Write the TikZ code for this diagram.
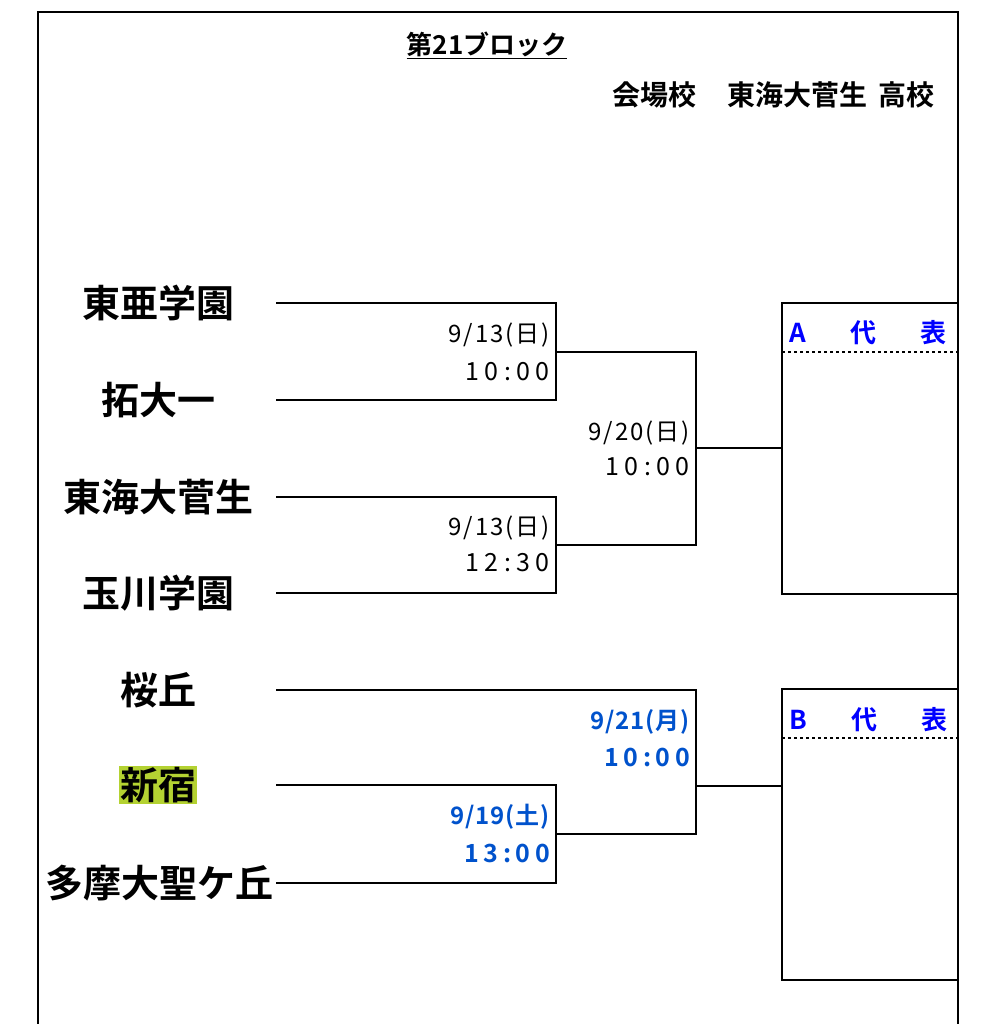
\documentclass[tikz,border=0pt]{standalone}
\usepackage{fontspec}
\setmainfont{Noto Sans CJK JP}[BoldFont={Noto Sans CJK JP Bold}]
\begin{document}
\begin{tikzpicture}[x=1pt,y=-1pt,
  ln/.style={line width=1.5pt},
  team/.style={font=\bfseries\fontsize{38}{38}\selectfont,anchor=center},
  dt/.style={font=\fontsize{24}{24}\selectfont\addfontfeature{LetterSpace=8},anchor=east,inner sep=0pt},
  tm/.style={font=\fontsize{25}{25}\selectfont\addfontfeature{LetterSpace=22},anchor=east,inner sep=0pt},
  bdt/.style={font=\bfseries\fontsize{24}{24}\selectfont\addfontfeature{LetterSpace=4},anchor=east,inner sep=0pt,text=blue!60!cyan!80!black},
  btm/.style={font=\bfseries\fontsize{25}{25}\selectfont\addfontfeature{LetterSpace=18},anchor=east,inner sep=0pt,text=blue!60!cyan!80!black},
  rep/.style={font=\bfseries\fontsize{26}{26}\selectfont,text=blue,anchor=west,inner sep=0pt}]
\useasboundingbox (0,0) rectangle (982,1024);
\fill[white] (0,0) rectangle (982,1024);
\draw[line width=2.5pt] (38,1024) -- (38,12) -- (958,12) -- (958,1024);
\node (title) at (487,45) {\bfseries\fontsize{26}{26}\selectfont\underline{第21ブロック}};
\node[anchor=east,inner sep=0pt] (venue) at (935,95) {\bfseries\fontsize{28}{28}\selectfont 会場校\hspace{1.1em}東海大菅生\hspace{0.4em}高校};
% teams
\node[team] (t1) at (158,303) {東亜学園};
\node[team] (t2) at (158,400) {拓大一};
\node[team] (t3) at (158,497) {東海大菅生};
\node[team] (t4) at (158,593) {玉川学園};
\node[team] (t5) at (158,690) {桜丘};
\node[team,fill={rgb,255:red,180;green,210;blue,50},inner sep=1pt] (t6) at (158,785) {新宿};
\node[team,anchor=east,inner sep=0pt] (t7) at (274,883) {多摩大聖ケ丘};
% coordinates
\coordinate (a1) at (276,303); \coordinate (a2) at (276,400);
\coordinate (a3) at (276,497); \coordinate (a4) at (276,593);
\coordinate (a5) at (276,690); \coordinate (a6) at (276,785);
\coordinate (a7) at (276,883);
\draw[ln] (a1) -- (556,303) -- (556,400) -- (a2);
\draw[ln] (556,352) -- (696,352) -- (696,545) -- (556,545);
\draw[ln] (a3) -- (556,497) -- (556,593) -- (a4);
\draw[ln] (696,448) -- (782,448);
\draw[ln] (a5) -- (696,690) -- (696,834) -- (556,834);
\draw[ln] (a6) -- (556,785) -- (556,883) -- (a7);
\draw[ln] (696,786) -- (782,786);
% boxes
\draw[line width=2.5pt] (958,303) -- (782,303) -- (782,594) -- (958,594);
\draw[dashed,line width=1.2pt] (782,352) -- (958,352);
\node[rep] (ra) at (789,333) {A\hspace{1.7em}代\hspace{1.7em}表};
\draw[line width=2.5pt] (958,689) -- (782,689) -- (782,980) -- (958,980);
\draw[dashed,line width=1.2pt] (782,738) -- (958,738);
\node[rep] (rb) at (789,720) {B\hspace{1.7em}代\hspace{1.7em}表};
% dates
\node[dt] (d1) at (550,335) {9/13(日)};
\node[tm] (d1t) at (550,372) {10:00};
\node[dt] (d2) at (690,433) {9/20(日)};
\node[tm] (d2t) at (690,467) {10:00};
\node[dt] (d3) at (550,528) {9/13(日)};
\node[tm] (d3t) at (550,563) {12:30};
\node[bdt] (d4) at (690,722) {9/21(月)};
\node[btm] (d4t) at (690,757) {10:00};
\node[bdt] (d5) at (550,817) {9/19(土)};
\node[btm] (d5t) at (550,853) {13:00};
\end{tikzpicture}
\end{document}
